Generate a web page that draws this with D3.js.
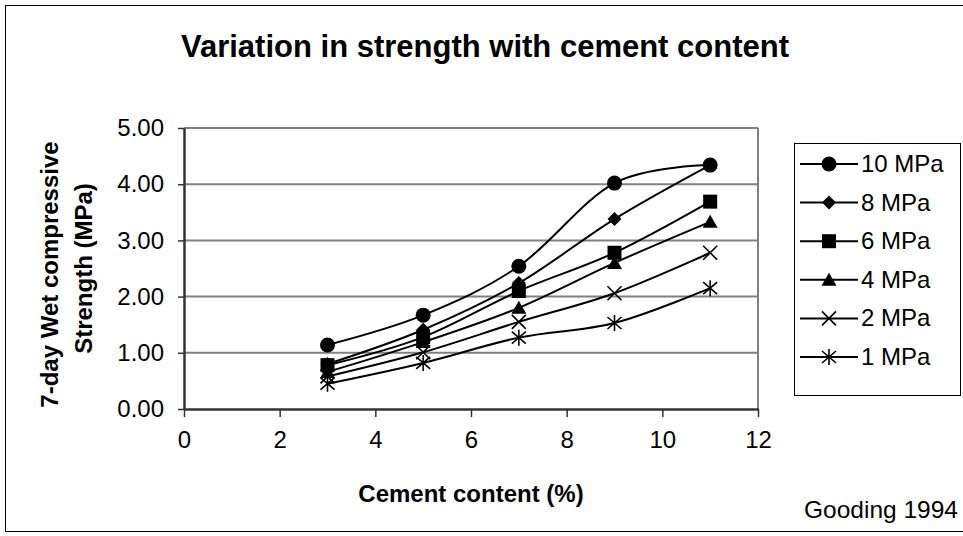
<!DOCTYPE html>
<html>
<head>
<meta charset="utf-8">
<script src="https://cdn.jsdelivr.net/npm/d3@7"></script>
<style>
  body { margin: 0; background: #fff; }
  svg { display: block; font-family: "Liberation Sans", Arial, sans-serif; }
  .grid line { stroke: #808080; stroke-width: 2; }
</style>
</head>
<body>
<svg id="chart" width="963" height="536"></svg>
<script>
// cement content (%)
var cement = [3, 5, 7, 9, 11];

// 7-day wet compressive strength (MPa), one array per target strength
var s10 = [1.14, 1.67, 2.54, 4.02, 4.34];
var s8  = [0.80, 1.41, 2.24, 3.38, 4.34];
var s6  = [0.78, 1.28, 2.10, 2.78, 3.69];
var s4  = [0.66, 1.19, 1.80, 2.60, 3.33];
var s2  = [0.58, 1.01, 1.55, 2.06, 2.78];
var s1  = [0.45, 0.82, 1.27, 1.53, 2.15];

var seriesNames = ["10 MPa", "8 MPa", "6 MPa", "4 MPa", "2 MPa", "1 MPa"];
var markerTypes = ["circle", "diamond", "square", "triangle", "cross", "star"];
var xTicks = [0, 2, 4, 6, 8, 10, 12];
var yTicks = [0, 1, 2, 3, 4, 5];

var series = [s10, s8, s6, s4, s2, s1].map(function(vals, i) {
  return { name: seriesNames[i], marker: markerTypes[i],
           points: vals.map(function(v, j) { return [cement[j], v]; }) };
});

var svg = d3.select("#chart");
var plot = { left: 184, right: 758, top: 128, bottom: 409 };

var x = d3.scaleLinear().domain([0, 12]).range([plot.left, plot.right]);
var y = d3.scaleLinear().domain([0, 5]).range([plot.bottom, plot.top]);

// outer frame
svg.append("rect")
    .attr("x", 5.5).attr("y", 5.5)
    .attr("width", 963).attr("height", 526)
    .attr("fill", "none").attr("stroke", "#000").attr("stroke-width", 1);

// title
svg.append("text")
    .attr("x", 485).attr("y", 57)
    .attr("text-anchor", "middle")
    .attr("font-size", 31).attr("font-weight", "bold")
    .text("Variation in strength with cement content");

// gridlines
svg.append("g").attr("class", "grid")
  .selectAll("line")
  .data(yTicks.slice(1))
  .enter().append("line")
    .attr("x1", plot.left).attr("x2", plot.right)
    .attr("y1", function(d) { return y(d); })
    .attr("y2", function(d) { return y(d); });

// right border of plot area
svg.append("line")
    .attr("x1", plot.right).attr("x2", plot.right)
    .attr("y1", plot.top).attr("y2", plot.bottom)
    .attr("stroke", "#808080").attr("stroke-width", 2);

// axes
var xAxis = svg.append("g")
    .attr("transform", "translate(0," + plot.bottom + ")")
    .call(d3.axisBottom(x).tickValues(xTicks).tickSize(8).tickPadding(14).tickSizeOuter(0));
var yAxis = svg.append("g")
    .attr("transform", "translate(" + plot.left + ",0)")
    .call(d3.axisLeft(y).tickValues(yTicks).tickFormat(d3.format(".2f")).tickSize(6).tickPadding(14).tickSizeOuter(0));

[xAxis, yAxis].forEach(function(a) {
  a.select(".domain").attr("stroke", "#333").attr("stroke-width", 2.5);
  a.selectAll(".tick line").attr("stroke", "#333").attr("stroke-width", 1.5);
  a.selectAll(".tick text").attr("font-size", 24).attr("fill", "#000")
    .attr("font-family", "'Liberation Sans', Arial, sans-serif");
});

// axis titles
svg.append("text")
    .attr("x", 471).attr("y", 502)
    .attr("text-anchor", "middle")
    .attr("font-size", 24).attr("font-weight", "bold")
    .text("Cement content (%)");

var yTitle = svg.append("text")
    .attr("transform", "translate(0," + ((plot.top + plot.bottom) / 2) + ") rotate(-90)")
    .attr("text-anchor", "middle")
    .attr("font-size", 24).attr("font-weight", "bold");
yTitle.append("tspan").attr("x", -6).attr("y", 58).text("7-day Wet compressive");
yTitle.append("tspan").attr("x", 0).attr("y", 92).text("Strength (MPa)");

// source note
svg.append("text")
    .attr("x", 958).attr("y", 518)
    .attr("text-anchor", "end")
    .attr("font-size", 24.5)
    .text("Gooding 1994");

// markers
function drawMarker(g, type) {
  if (type === "circle") {
    g.append("circle").attr("r", 7.5).attr("fill", "#000");
  } else if (type === "diamond") {
    g.append("path").attr("d", "M0,-7L7,0L0,7L-7,0Z").attr("fill", "#000");
  } else if (type === "square") {
    g.append("rect").attr("x", -7).attr("y", -7).attr("width", 14).attr("height", 14).attr("fill", "#000");
  } else if (type === "triangle") {
    g.append("path").attr("d", "M0,-7L7.5,6L-7.5,6Z").attr("fill", "#000");
  } else if (type === "cross") {
    g.append("path").attr("d", "M-7,-7L7,7M7,-7L-7,7").attr("stroke", "#000").attr("stroke-width", 1.6);
  } else {
    g.append("path").attr("d", "M-7,-6L7,6M7,-6L-7,6M0,-8L0,8").attr("stroke", "#000").attr("stroke-width", 1.6);
  }
}

var line = d3.line()
    .x(function(d) { return x(d[0]); })
    .y(function(d) { return y(d[1]); })
    .curve(d3.curveCardinal.tension(0));

var sg = svg.append("g").selectAll("g")
  .data(series)
  .enter().append("g");

sg.append("path")
    .attr("d", function(d) { return line(d.points); })
    .attr("fill", "none").attr("stroke", "#000").attr("stroke-width", 2);

sg.each(function(s) {
  var g = d3.select(this);
  s.points.forEach(function(p) {
    var m = g.append("g").attr("transform", "translate(" + x(p[0]) + "," + y(p[1]) + ")");
    drawMarker(m, s.marker);
  });
});

// legend
var legend = svg.append("g");
legend.append("rect")
    .attr("x", 794.5).attr("y", 143.5)
    .attr("width", 166).attr("height", 252)
    .attr("fill", "#fff").attr("stroke", "#000").attr("stroke-width", 1);

var li = legend.selectAll("g.item")
  .data(series)
  .enter().append("g")
    .attr("class", "item")
    .attr("transform", function(d, i) { return "translate(0," + (164 + i * 38.6) + ")"; });
li.append("line")
    .attr("x1", 800).attr("x2", 858)
    .attr("stroke", "#000").attr("stroke-width", 2);
li.each(function(s) {
  var m = d3.select(this).append("g").attr("transform", "translate(829,0)");
  drawMarker(m, s.marker);
});
li.append("text")
    .attr("x", 861).attr("y", 8)
    .attr("font-size", 24)
    .text(function(d) { return d.name; });
</script>
</body>
</html>
